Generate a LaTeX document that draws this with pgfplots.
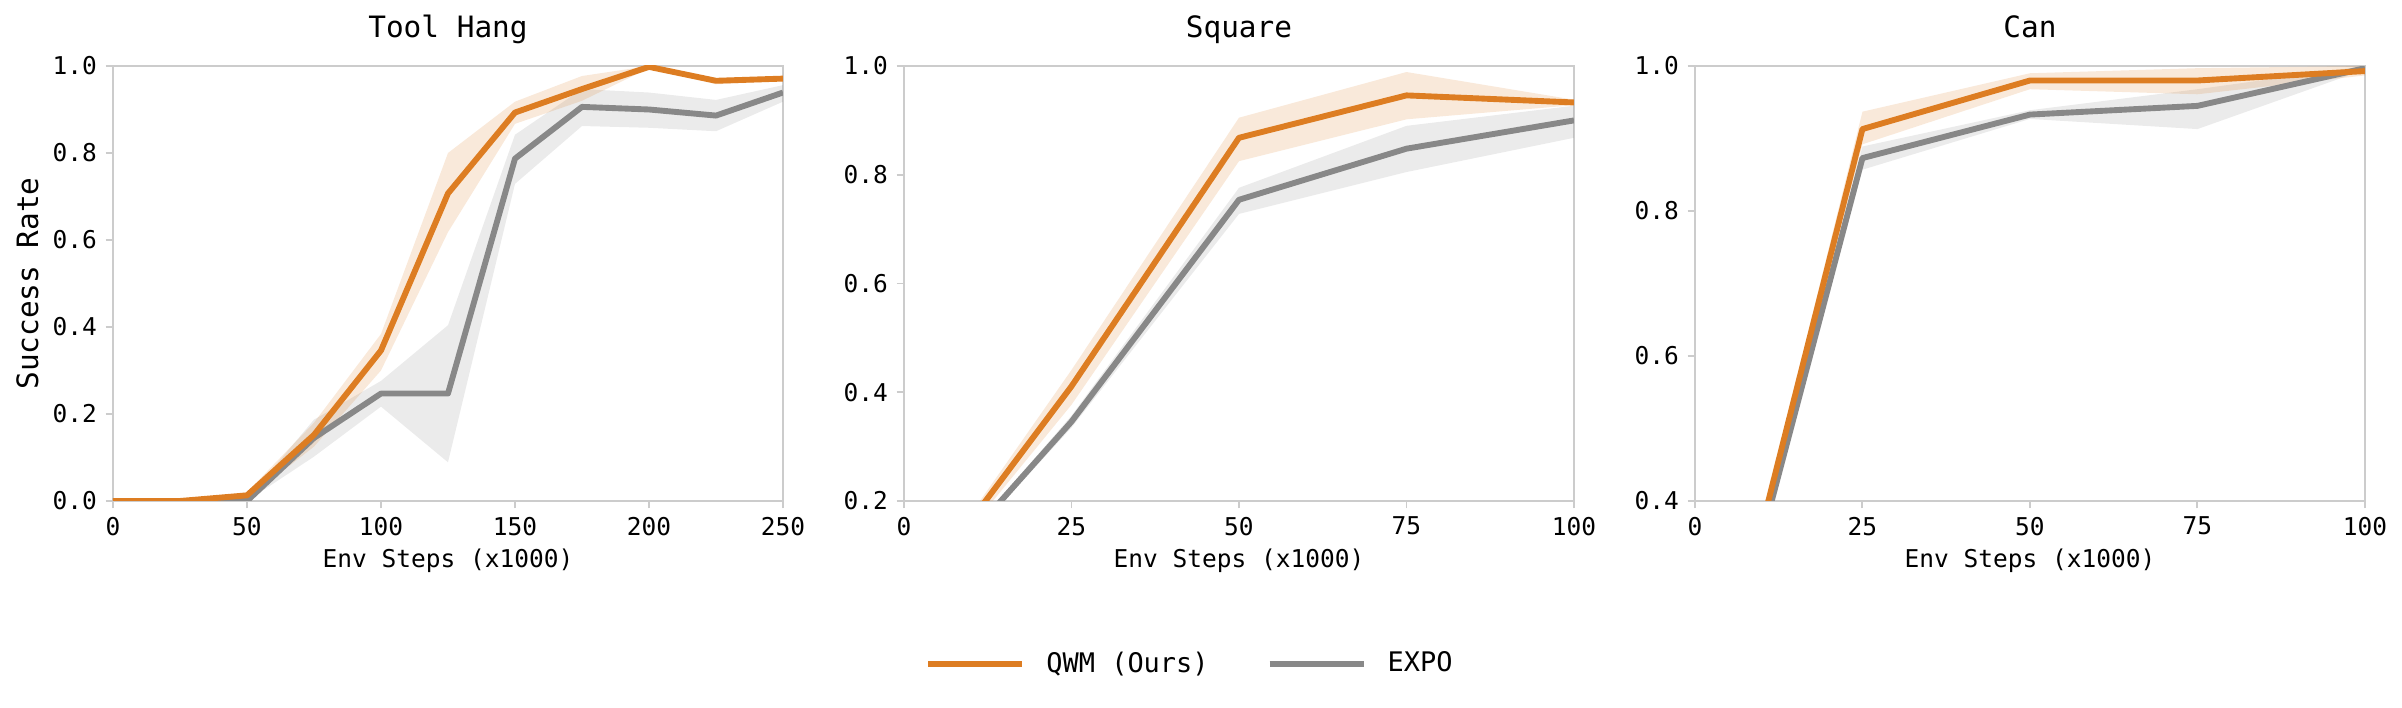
\documentclass[border=0pt]{standalone}
\usepackage{fontspec}
\setmainfont{DejaVu Sans Mono}
\usepackage{pgfplots}
\pgfplotsset{compat=1.18}
\usepackage{pgfplotstable}
\usepgfplotslibrary{fillbetween}

\definecolor{qwm}{RGB}{221,125,34}
\definecolor{expo}{RGB}{136,136,136}
\definecolor{spine}{RGB}{204,204,204}

% x, QWM mean/low/high, EXPO mean/low/high
\pgfplotstableread{
x   q     qlo   qhi   e     elo   ehi
0   0.000 0.000 0.000 0.000 0.000 0.000
25  0.000 0.000 0.002 0.000 0.000 0.000
50  0.013 0.005 0.020 0.000 0.000 0.004
75  0.152 0.125 0.180 0.145 0.102 0.187
100 0.346 0.300 0.384 0.247 0.217 0.276
125 0.707 0.618 0.800 0.247 0.089 0.404
150 0.893 0.867 0.918 0.787 0.729 0.842
175 0.947 0.920 0.977 0.906 0.862 0.947
200 0.998 0.995 1.000 0.900 0.858 0.939
225 0.966 0.958 0.972 0.886 0.850 0.922
250 0.971 0.965 0.976 0.939 0.918 0.956
}\toolhang

\pgfplotstableread{
x   q     qlo   qhi   e     elo   ehi
0   0.000 0.000 0.000 0.000 0.000 0.000
25  0.411 0.377 0.441 0.346 0.335 0.357
50  0.868 0.825 0.905 0.754 0.728 0.776
75  0.946 0.902 0.989 0.848 0.805 0.890
100 0.933 0.928 0.938 0.900 0.868 0.927
}\squaredata

\pgfplotstableread{
x   q     qlo   qhi   e     elo   ehi
0   0.000 0.000 0.000 0.000 0.000 0.000
25  0.913 0.892 0.937 0.873 0.857 0.889
50  0.980 0.968 0.990 0.933 0.927 0.939
75  0.980 0.961 0.997 0.945 0.913 0.968
100 0.993 0.987 1.000 0.997 0.995 1.000
}\candata

\pgfplotsset{
  every axis title shift=0pt,
  panel/.style={
    scale only axis, width=273.47pt, height=177.55pt,
    anchor=south west,
    axis line style={spine, line width=0.8pt},
    tick align=outside, xtick pos=left, ytick pos=left,
    major tick length=3pt,
    tick style={spine, line width=0.8pt},
    tick label style={font=\fontsize{10}{12}\selectfont, black},
    /pgf/number format/assume math mode=true,
    yticklabel style={/pgf/number format/.cd, fixed, fixed zerofill, precision=1},
    title style={font=\fontsize{12}{14}\selectfont, at={(axis description cs:0.5,1)}, anchor=base, yshift=11.7pt},
    xlabel={Env Steps (x1000)},
    xlabel style={font=\fontsize{10}{12}\selectfont, at={(axis description cs:0.5,0)}, anchor=base, yshift=-27.35pt},
    ylabel style={font=\fontsize{12}{14}\selectfont, at={(axis description cs:-0.1119,0.5)}, anchor=base},
  },
  qline/.style={qwm, line width=2.4pt, line join=round},
  eline/.style={expo, line width=2.4pt, line join=round},
}

\newcommand{\bands}[1]{%
  \addplot[name path=eh, draw=none, forget plot] table[x=x, y=ehi] {#1};
  \addplot[name path=el, draw=none, forget plot] table[x=x, y=elo] {#1};
  \addplot[expo, fill opacity=0.17, draw=none, forget plot] fill between[of=eh and el];
  \addplot[name path=qh, draw=none, forget plot] table[x=x, y=qhi] {#1};
  \addplot[name path=ql, draw=none, forget plot] table[x=x, y=qlo] {#1};
  \addplot[qwm, fill opacity=0.17, draw=none, forget plot] fill between[of=qh and ql];
  \addplot[eline, forget plot] table[x=x, y=e] {#1};
  \addplot[qline, forget plot] table[x=x, y=q] {#1};
}

\begin{document}
\begin{tikzpicture}
\begin{axis}[panel, at={(0pt,0pt)},
    title={Tool Hang}, ylabel={Success Rate},
    xmin=0, xmax=250, ymin=0, ymax=1,
    xtick={0,50,100,150,200,250}, ytick={0,0.2,0.4,0.6,0.8,1}]
\bands{\toolhang}
\end{axis}

\begin{axis}[panel, at={(322.86pt,0pt)},
    title={Square},
    xmin=0, xmax=100, ymin=0.2, ymax=1,
    xtick={0,25,50,75,100}, ytick={0.2,0.4,0.6,0.8,1},
    legend columns=2,
    legend style={at={(axis description cs:0.4254,-0.374)}, anchor=center,
      draw=none, fill=none, font=\fontsize{11}{13}\selectfont,
      nodes={inner sep=0pt},
      /tikz/every odd column/.style={column sep=8.6pt},
      /tikz/every even column/.style={column sep=23.7pt}},
    legend image code/.code={\draw[#1] (0pt,0pt) -- (38.4pt,0pt);}]
\addlegendimage{qline}
\addlegendimage{eline}
\bands{\squaredata}
\legend{QWM (Ours), EXPO}
\end{axis}

\begin{axis}[panel, at={(645.7pt,0pt)},
    title={Can},
    xmin=0, xmax=100, ymin=0.4, ymax=1,
    xtick={0,25,50,75,100}, ytick={0.4,0.6,0.8,1}]
\bands{\candata}
\end{axis}
\useasboundingbox (-46.12pt,-84.49pt) rectangle (934.3pt,204.49pt);
\end{tikzpicture}
\end{document}
